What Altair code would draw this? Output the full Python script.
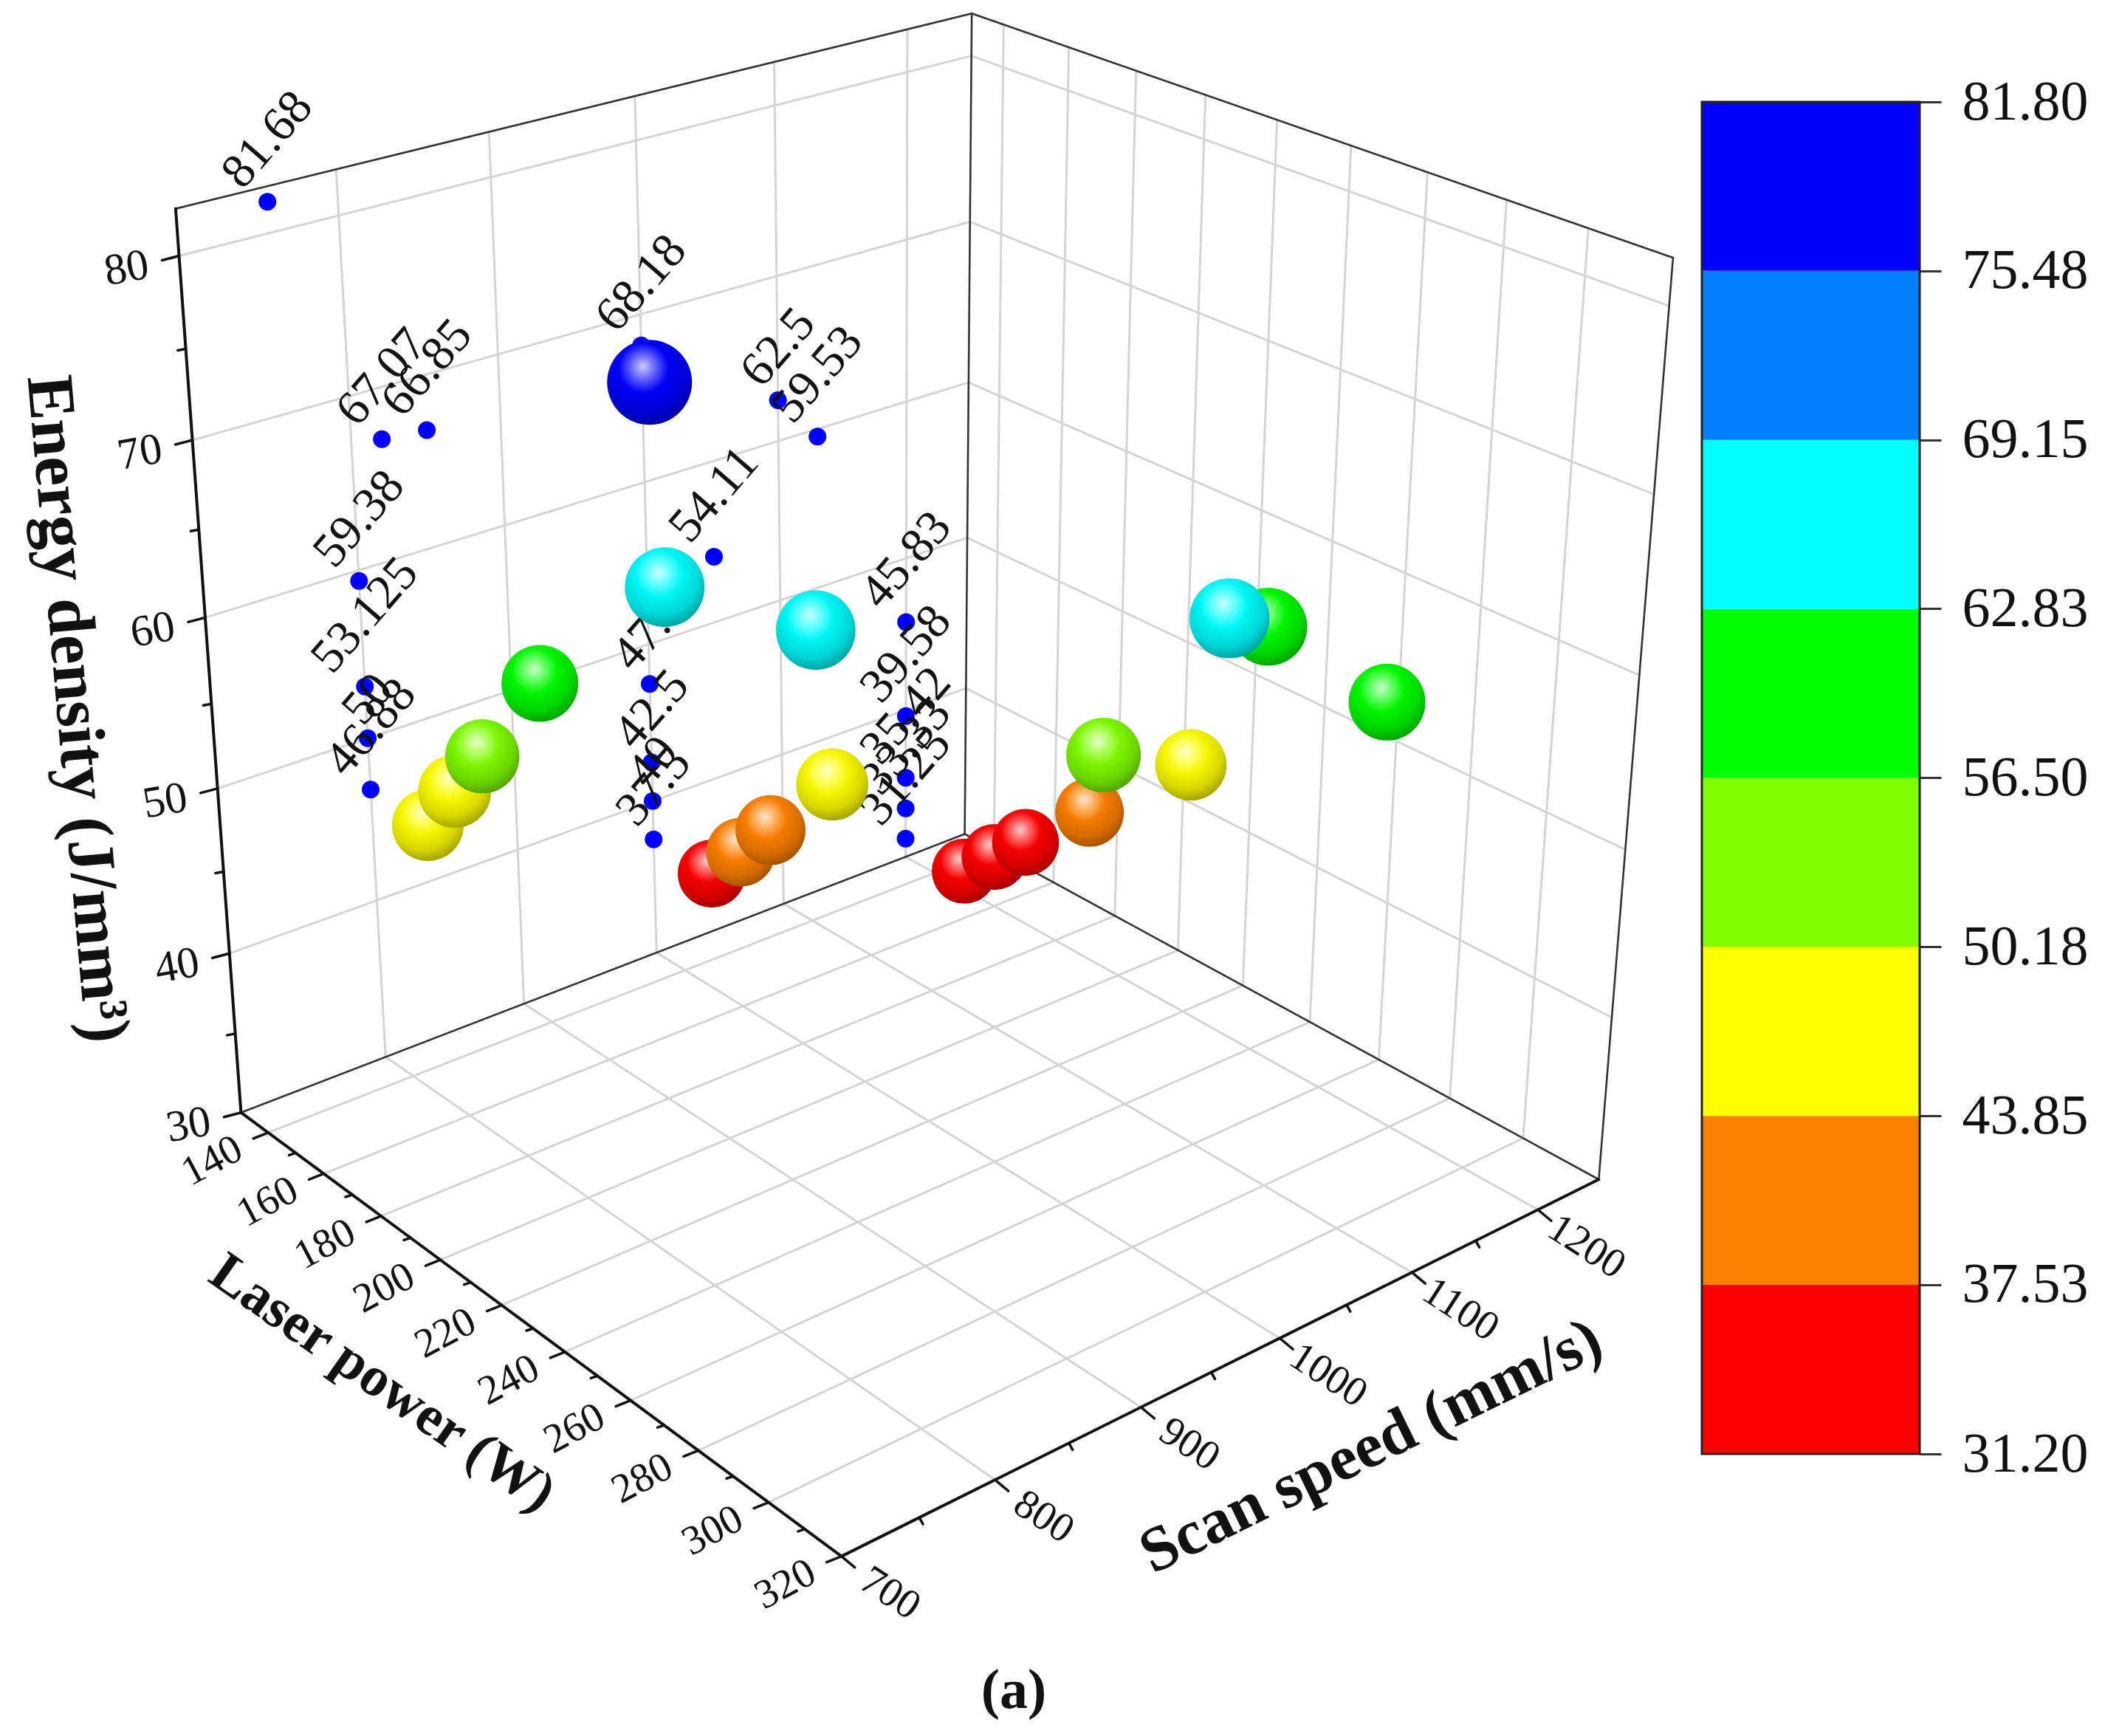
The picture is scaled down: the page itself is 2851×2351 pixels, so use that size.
import math
import numpy as np
import pandas as pd
import altair as alt

# ---------- data ----------
laser_power = [150,160,170,190,150,160,170,190,150,160,170,190,220,250,296,275,220,250,300,247]
scan_speed  = [800,800,800,800,1000,1000,1000,1000,1200,1200,1200,1200,1200,1050,1130,1100,820,850,1000,756]
energy      = [46.88,50,53.125,59.38,37.5,40,42.5,47.5,31.25,33.33,35.42,39.58,45.83,54.11,59.53,62.5,67.07,66.85,68.18,81.68]
labels      = ["46.88","50","53.125","59.38","37.5","40","42.5","47.5","31.25","33.33","35.42","39.58","45.83",
               "54.11","59.53","62.5","67.07","66.85","68.18","81.68"]
# drawing order of the spheres, back to front
sphere_order = [0,1,2,3,4,5,6,7,17,16,19,14,15,18,12,11,13,8,9,10]

band_edges  = [31.20,37.53,43.85,50.18,56.50,62.83,69.15,75.48,81.80]
band_colors = ["#ff0000","#ff8000","#ffff00","#80ff00","#00ff00","#00ffff","#0080ff","#0000ff"]

energy_major = [30,40,50,60,70,80]
energy_minor = [35,45,55,65,75]
power_major  = [140,160,180,200,220,240,260,280,300,320]
power_minor  = [150,170,190,210,230,250,270,290,310]
speed_major  = [700,800,900,1000,1100,1200]
speed_minor  = [750,850,950,1050,1150]

P0,P1 = 130,320
V0,V1 = 700,1250
E0,E1 = 30,82.5

W,H = 2851,2351
M = 8

# ---------- camera: the box's corners on the page ----------
corners = [((0,0,0),(326,1506)),((1,0,0),(1140,2108)),((1,1,0),(2165,1597)),((0,1,0),(1307,1130)),
           ((0,0,1),(238,283)),((0,1,1),(1316,18)),((1,1,1),(2266,349))]
A,b = [],[]
for (u,s,w),(x,y) in corners:
    A.append([u,s,w,1,0,0,0,0,-x*u,-x*s,-x*w]); b.append(x)
    A.append([0,0,0,0,u,s,w,1,-y*u,-y*s,-y*w]); b.append(y)
cam = np.append(np.linalg.lstsq(np.array(A,float),np.array(b,float),rcond=None)[0],1).reshape(3,4)

def pr(P,v,E):
    q = cam @ np.array([(P-P0)/(P1-P0),(v-V0)/(V1-V0),(E-E0)/(E1-E0),1.0])
    return float(q[0]/q[2]), float(q[1]/q[2])

xs = alt.Scale(domain=[M,W-M],range=[0,W-2*M])
ys = alt.Scale(domain=[M,H-M],range=[0,H-2*M])
X = lambda f: alt.X(f+":Q",scale=xs,axis=None)
Y = lambda f: alt.Y(f+":Q",scale=ys,axis=None)

def segs(pairs,color,width,cap="round"):
    rows=[]
    for a,c in pairs:
        rows.append({"x0":a[0],"y0":a[1],"x1":c[0],"y1":c[1]})
    return alt.Chart(pd.DataFrame(rows)).mark_rule(color=color,strokeWidth=width,strokeCap=cap).encode(
        x=X("x0"),y=Y("y0"),x2="x1:Q",y2="y1:Q")

def ticks(points,off,color="#111",width=3.5):
    return segs([(p,(p[0]+off[0],p[1]+off[1])) for p in points],color,width)

def texts(rows,size,angle,weight="normal",font="Liberation Serif",color="#111"):
    return alt.Chart(pd.DataFrame(rows)).mark_text(font=font,fontSize=size,angle=angle,fontWeight=weight,
            color=color,align="center",baseline="middle").encode(x=X("x"),y=Y("y"),text="t:N")

layers=[]
# ---------- grid ----------
grid=[]
for e in energy_major[1:]:
    grid.append((pr(P0,V0,e),pr(P0,V1,e)))
    grid.append((pr(P0,V1,e),pr(P1,V1,e)))
for v in speed_major[1:]:
    grid.append((pr(P0,v,E0),pr(P0,v,E1)))
    grid.append((pr(P0,v,E0),pr(P1,v,E0)))
for p in power_major[:-1]:
    grid.append((pr(p,V1,E0),pr(p,V1,E1)))
    grid.append((pr(p,V0,E0),pr(p,V1,E0)))
layers.append(segs(grid,"#d4d4d4",3))

# ---------- box ----------
thin=[(pr(P0,V1,E0),pr(P0,V1,E1)),(pr(P1,V1,E0),pr(P1,V1,E1)),
      (pr(P0,V0,E1),pr(P0,V1,E1)),(pr(P0,V1,E1),pr(P1,V1,E1)),
      (pr(P0,V0,E0),pr(P0,V1,E0)),(pr(P0,V1,E0),pr(P1,V1,E0))]
layers.append(segs(thin,"#333333",2.6))
thick=[(pr(P0,V0,E0),pr(P0,V0,E1)),(pr(P0,V0,E0),pr(P1,V0,E0)),(pr(P1,V0,E0),pr(P1,V1,E0))]
layers.append(segs(thick,"#111111",4))

# ---------- axis ticks ----------
layers.append(ticks([pr(P0,V0,e) for e in energy_major],(-23,6)))
layers.append(ticks([pr(P0,V0,e) for e in energy_minor],(-11,2)))
layers.append(ticks([pr(p,V0,E0) for p in power_major],(-20,8)))
layers.append(ticks([pr(p,V0,E0) for p in power_minor],(-9,3)))
layers.append(ticks([pr(P1,v,E0) for v in speed_major],(18,15)))
layers.append(ticks([pr(P1,v,E0) for v in speed_minor],(5,9)))

# ---------- axis labels ----------
layers.append(texts([{"x":pr(P0,V0,e)[0]-71,"y":pr(P0,V0,e)[1]+17,"t":str(e)} for e in energy_major],60,350))
layers.append(texts([{"x":pr(p,V0,E0)[0]-76,"y":pr(p,V0,E0)[1]+38,"t":str(p)} for p in power_major],56,332))
layers.append(texts([{"x":pr(P1,v,E0)[0]+66,"y":pr(P1,v,E0)[1]+50,"t":str(v)} for v in speed_major],56,33))

# ---------- axis titles ----------
layers.append(texts([{"x":518,"y":1873,"t":"Laser power (W)"}],76,35,"bold"))
layers.append(texts([{"x":1857,"y":1959,"t":"Scan speed (mm/s)"}],86,334,"bold"))
layers.append(texts([{"x":104,"y":960,"t":"Energy density (J/mm³)"}],90,85,"bold"))
layers.append(texts([{"x":1373,"y":2290,"t":"(a)"}],76,0,"bold"))

# ---------- wall dots and their labels ----------
dots=[]
for v,e,t in zip(scan_speed,energy,labels):
    x,y=pr(P0,v,e)
    dots.append({"x":x,"y":y,"t":t})
dd=pd.DataFrame(dots)
layers.append(alt.Chart(dd).mark_circle(color="#0000ff",opacity=1,size=576).encode(x=X("x"),y=Y("y")))
FS=66
lab=[]
for r in dots:
    w=sum(0.25 if c=="." else 0.5 for c in r["t"])*FS
    lab.append({"x":r["x"],"y":r["y"]-28-w/2*math.sin(math.radians(49)),"t":r["t"]})
layers.append(texts(lab,FS,311))

# ---------- spheres ----------
def mix(c,t,a):
    return tuple(c[i]+(t[i]-c[i])*a for i in range(3))
def hexc(c):
    return "#%02x%02x%02x"%tuple(int(round(v)) for v in c)
def band(e):
    for i in range(8):
        if e<=band_edges[i+1]:
            return band_colors[i]
    return band_colors[-1]
def sphere_fill(h):
    c=tuple(int(h[i:i+2],16) for i in (1,3,5))
    return {"gradient":"radial","x1":0.42,"y1":0.31,"r1":0,"x2":0.44,"y2":0.36,"r2":0.74,
            "stops":[{"offset":0,"color":hexc(mix(c,(255,255,255),0.8))},
                     {"offset":0.18,"color":hexc(mix(c,(255,255,255),0.42))},
                     {"offset":0.40,"color":hexc(mix(c,(0,0,0),0.04))},
                     {"offset":0.68,"color":hexc(mix(c,(0,0,0),0.16))},
                     {"offset":1,"color":hexc(mix(c,(0,0,0),0.48))}]}
for i in sphere_order:
    x,y=pr(laser_power[i],scan_speed[i],energy[i])
    d=pd.DataFrame([{"x":x,"y":y,"E":energy[i]}])
    layers.append(alt.Chart(d).mark_circle(fill=sphere_fill(band(energy[i])),opacity=1).encode(
        x=X("x"),y=Y("y"),
        size=alt.Size("E:Q",legend=None,scale=alt.Scale(domain=[31.25,81.68],range=[7744,13225]))))

# ---------- colour bar ----------
bar_scale=alt.Scale(domain=[band_edges[0],band_edges[-1]],range=[1969-M,138-M])
bd=pd.DataFrame({"lo":band_edges[:-1],"hi":band_edges[1:],"c":band_colors})
bar_x0,bar_x1=2305-M,2600-M
layers.append(alt.Chart(bd).mark_rect().encode(
    x=alt.value(bar_x0),x2=alt.value(bar_x1),
    y=alt.Y("lo:Q",scale=bar_scale,axis=alt.Axis(orient="right",offset=bar_x1-(W-2*M),values=band_edges,format=".2f",
        title=None,grid=False,tickSize=29,tickWidth=3,tickColor="#333333",domain=False,labelPadding=28,
        labelFont="Liberation Serif",labelFontSize=76,labelColor="#111111",labelAlign="left",labelBaseline="middle",
        labelOverlap=False,labelBound=False,labelFlush=False)),
    y2="hi:Q",
    fill=alt.Fill("c:N",scale=None)))
layers.append(alt.Chart(pd.DataFrame({"lo":[band_edges[0]],"hi":[band_edges[-1]]})).mark_rect(
        filled=False,stroke="#222222",strokeWidth=3).encode(
    x=alt.value(bar_x0),x2=alt.value(bar_x1),
    y=alt.Y("lo:Q",scale=bar_scale,axis=None),y2="hi:Q"))

chart=alt.layer(*layers).resolve_scale(y="independent",size="shared").properties(
    width=W-2*M,height=H-2*M,padding=0,autosize=alt.AutoSizeParams(type="none"),background="white"
).configure_view(stroke=None)
chart.save("out.html",embed_options={"renderer":"svg","actions":False})
